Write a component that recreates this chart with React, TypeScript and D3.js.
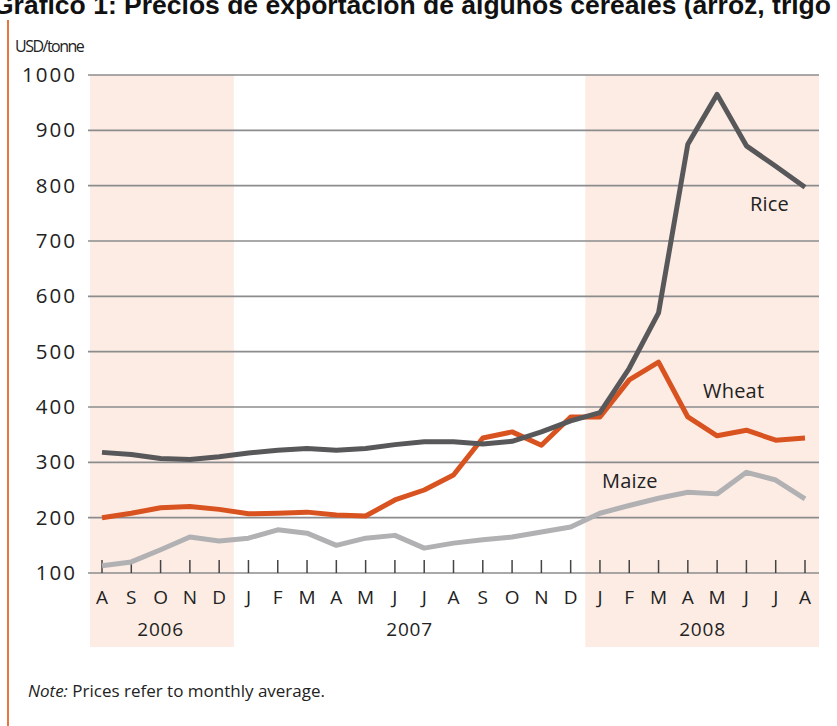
import * as d3 from 'd3';

// Aug 2006 .. Aug 2008, monthly averages (USD/tonne)
const months = ['A', 'S', 'O', 'N', 'D', 'J', 'F', 'M', 'A', 'M', 'J', 'J', 'A', 'S', 'O', 'N', 'D', 'J', 'F', 'M', 'A', 'M', 'J', 'J', 'A'];
const years = [
  { label: '2006', from: 0, to: 4 },
  { label: '2007', from: 5, to: 16 },
  { label: '2008', from: 17, to: 24 },
];
const rice = [318, 314, 307, 305, 310, 317, 322, 325, 322, 325, 332, 337, 337, 333, 338, 355, 375, 390, 470, 570, 875, 965, 872, 835, 797];
const wheat = [200, 208, 218, 220, 215, 207, 208, 210, 205, 203, 232, 250, 277, 344, 355, 331, 382, 382, 449, 481, 382, 348, 358, 340, 344];
const maize = [113, 120, 142, 165, 158, 163, 178, 172, 150, 163, 168, 145, 154, 160, 165, 174, 183, 208, 222, 235, 246, 243, 282, 268, 234];
const yTicks = [100, 200, 300, 400, 500, 600, 700, 800, 900, 1000];

const W = 837;
const H = 726;
const font = "'Open Sans', sans-serif";

const series = [
  { name: 'Rice', values: rice, color: '#58585a', lx: 750, ly: 211 },
  { name: 'Wheat', values: wheat, color: '#d8531f', lx: 703, ly: 398 },
  { name: 'Maize', values: maize, color: '#b1b1b3', lx: 602, ly: 488 },
];

export default function App() {
  const x = d3.scaleLinear().domain([0, months.length - 1]).range([102, 805]);
  const y = d3.scaleLinear().domain([100, 1000]).range([573, 75]);
  const step = x(1) - x(0);
  const line = d3
    .line<number>()
    .x((_, i) => x(i))
    .y((d) => y(d));

  const left = 88;
  const right = 819;

  return (
    <div style={{ position: 'absolute', left: 0, top: 0 }}>
      <svg width={W} height={H} style={{ display: 'block', background: '#fff' }}>
        <text x={-7} y={14} fontFamily="'Liberation Sans', Arial, sans-serif" fontWeight="bold" fontSize={26.5} fill="#111">
          Gráfico 1: Precios de exportación de algunos cereales (arroz, trigo y maíz)
        </text>
        <line x1={8} x2={8} y1={20} y2={H} stroke="#e8743f" strokeWidth={2} />

        <text x={15} y={52} fontFamily={font} fontSize={16} fill="#222" letterSpacing={-1.5}>
          USD/tonne
        </text>

        {/* shaded periods */}
        <rect x={left + 2} y={y(1000)} width={x(4) + step / 2 - left - 2} height={647 - y(1000)} fill="#fcece4" />
        <rect x={x(16) + step / 2} y={y(1000)} width={right - x(16) - step / 2} height={647 - y(1000)} fill="#fcece4" />

        {yTicks.map((t) => (
          <g key={t}>
            <line x1={left} x2={right} y1={y(t)} y2={y(t)} stroke="#8c8c8e" strokeWidth={1.6} />
            <text x={77} y={y(t) + 7} textAnchor="end" fontFamily={font} fontSize={20.5} fill="#222" letterSpacing={2}>
              {t}
            </text>
          </g>
        ))}

        {months.map((m, i) => (
          <g key={i}>
            <line x1={x(i)} x2={x(i)} y1={y(100)} y2={y(100) - 13} stroke="#444" strokeWidth={1.5} />
            <text x={x(i)} y={604} textAnchor="middle" fontFamily={font} fontSize={19} fill="#222">
              {m}
            </text>
          </g>
        ))}
        {years.map((yr) => (
          <text key={yr.label} x={(x(yr.from) + x(yr.to)) / 2} y={636} textAnchor="middle" fontFamily={font} fontSize={19} fill="#222" letterSpacing={0.8}>
            {yr.label}
          </text>
        ))}

        {series
          .slice()
          .reverse()
          .map((s) => (
            <path key={s.name} d={line(s.values) ?? ''} fill="none" stroke={s.color} strokeWidth={5} strokeLinejoin="round" />
          ))}
        {series.map((s) => (
          <text key={s.name + 'l'} x={s.lx} y={s.ly} fontFamily={font} fontSize={20} fill="#222" letterSpacing={0.2}>
            {s.name}
          </text>
        ))}

        <text x={28} y={697} fontFamily={font} fontSize={17} fill="#222" letterSpacing={0}>
          <tspan fontStyle="italic">Note:</tspan> Prices refer to monthly average.
        </text>
      </svg>
    </div>
  );
}
